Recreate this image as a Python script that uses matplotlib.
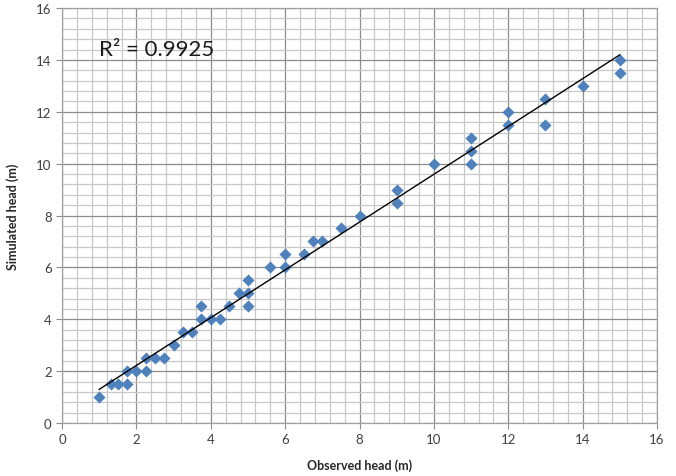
import numpy as np
import matplotlib
matplotlib.use("Agg")
import matplotlib.pyplot as plt
from matplotlib.ticker import MultipleLocator

observed = [1, 1.33, 1.5, 1.75, 1.75, 2, 2.25, 2.25, 2.5, 2.75, 3, 3.25, 3.5,
            3.75, 3.75, 4, 4.25, 4.5, 4.75, 5, 5, 5, 5.6, 6, 6, 6.5, 6.75, 7,
            7.5, 8, 9, 9, 10, 11, 11, 11, 12, 12, 13, 13, 14, 15, 15]
simulated = [1, 1.5, 1.5, 1.5, 2, 2, 2, 2.5, 2.5, 2.5, 3, 3.5, 3.5,
             4, 4.5, 4, 4, 4.5, 5, 5, 4.5, 5.5, 6, 6, 6.5, 6.5, 7, 7,
             7.5, 8, 8.5, 9, 10, 10, 10.5, 11, 11.5, 12, 11.5, 12.5, 13, 13.5, 14]
r2_label = "R² = 0.9925"
x_label = "Observed head (m)"
y_label = "Simulated head (m)"

plt.rcParams['font.family'] = ['Lato', 'DejaVu Sans']

fig = plt.figure(figsize=(6.76, 4.77), dpi=100)
ax = fig.add_axes([62/676, 53/477, 595/676, 415/477])

x = np.array(observed)
y = np.array(simulated)
m, b = np.polyfit(x, y, 1)
xs = np.array([x.min(), x.max()])

ax.set_xlim(0, 16)
ax.set_ylim(0, 16)
ax.xaxis.set_major_locator(MultipleLocator(2))
ax.yaxis.set_major_locator(MultipleLocator(2))
ax.xaxis.set_minor_locator(MultipleLocator(0.4))
ax.yaxis.set_minor_locator(MultipleLocator(0.4))
ax.grid(which='minor', color='#c8c8c8', linewidth=0.9)
ax.grid(which='major', color='#8c8c8c', linewidth=0.9)
ax.set_axisbelow(True)

ax.scatter(x, y, marker='D', s=38, color='#4F81BD', zorder=3, linewidths=0)
ax.plot(xs, m * xs + b, color='black', linewidth=1.0, zorder=4)

ax.text(1.0, 14.4, r2_label, fontsize=16, va='center', ha='left', color='#1a1a1a')

for s in ax.spines.values():
    s.set_color('#a0a0a0')
    s.set_linewidth(0.9)
ax.tick_params(which='major', length=4, color='#8c8c8c', labelsize=9.5, labelcolor='#404040')
ax.tick_params(which='minor', length=0)
ax.set_xlabel(x_label, fontsize=9, fontweight='bold', color='#262626', labelpad=9)
ax.set_ylabel(y_label, fontsize=9, fontweight='bold', color='#262626', labelpad=12)

fig.savefig("out.png", dpi=100, facecolor='white')
